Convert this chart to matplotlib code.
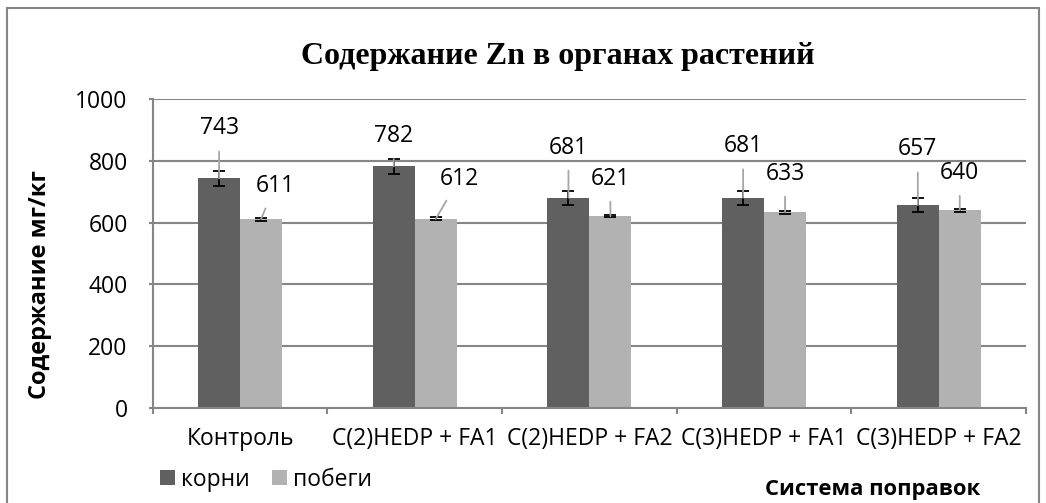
import numpy as np
import matplotlib
matplotlib.use('Agg')
import matplotlib.pyplot as plt
from matplotlib.patches import Rectangle

# data
categories = ['Контроль', 'C(2)HEDP + FA1', 'C(2)HEDP + FA2', 'C(3)HEDP + FA1', 'C(3)HEDP + FA2']
roots = [743, 782, 681, 681, 657]
roots_err = [24, 23, 23, 23, 24]
shoots = [611, 612, 621, 633, 640]
shoots_err = [5, 5, 4, 4, 5]

# label offsets in points (dx, dy) -- layout only
roots_off = [(0, 36), (0, 22), (0, 36), (0, 37), (0, 40)]
shoots_off = [(10, 24), (17, 29), (0, 27), (0, 28), (0, 27)]

plt.rcParams['font.family'] = ['Open Sans', 'DejaVu Sans']
fs = 16.5

fig = plt.figure(figsize=(10.46, 5.03), dpi=100)
ax = fig.add_axes([0.146, 0.189, 0.835, 0.614])

dark = '#606060'
light = '#b2b2b2'
grid_c = '#868686'
x = np.arange(len(categories))
w = 0.24

ax.bar(x - w / 2, roots, w, color=dark, label='корни', zorder=2)
ax.bar(x + w / 2, shoots, w, color=light, label='побеги', zorder=2)
ax.errorbar(x - w / 2, roots, yerr=roots_err, fmt='none', ecolor='black',
            elinewidth=1.3, capsize=4.3, capthick=1.3, zorder=4)
ax.errorbar(x + w / 2, shoots, yerr=shoots_err, fmt='none', ecolor='black',
            elinewidth=1.3, capsize=4.3, capthick=1.3, zorder=4)

lead = dict(arrowstyle='-', color='#a6a6a6', lw=1.3, shrinkA=6, shrinkB=0)
for xi, v, off in zip(x - w / 2, roots, roots_off):
    ax.annotate(str(v), xy=(xi, v), xytext=off, textcoords='offset points',
                ha='center', va='center', fontsize=fs, arrowprops=lead, zorder=5)
for xi, v, off in zip(x + w / 2, shoots, shoots_off):
    ax.annotate(str(v), xy=(xi, v), xytext=off, textcoords='offset points',
                ha='center', va='center', fontsize=fs, arrowprops=lead, zorder=5)

ax.set_xlim(-0.5, len(categories) - 0.5)
ax.set_ylim(0, 1000)
ax.set_yticks(range(0, 1001, 200))
ax.set_xticks(x)
ax.set_xticklabels(categories)
ax.set_xticks(np.arange(-0.5, len(categories)), minor=True)
ax.tick_params(axis='x', which='major', length=0, labelsize=fs, pad=14)
ax.tick_params(axis='x', which='minor', length=4, color=grid_c, width=1.5)
ax.tick_params(axis='y', length=3, color=grid_c, width=1.5, labelsize=fs, pad=15)
ax.grid(axis='y', color=grid_c, lw=1.5, zorder=0)
for s in ['top', 'right']:
    ax.spines[s].set_visible(False)
for s in ['left', 'bottom']:
    ax.spines[s].set_color(grid_c)
    ax.spines[s].set_linewidth(1.5)

ax.set_ylabel('Содержание мг/кг', fontsize=17, fontweight='bold')
ax.yaxis.set_label_coords(-0.115, 0.40)
fig.text(0.533, 0.887, 'Содержание Zn в органах растений', ha='center', va='center',
         fontsize=23, fontweight='bold', family='Liberation Serif')
fig.text(0.834, 0.026, 'Система поправок', ha='center', va='center',
         fontsize=15.8, fontweight='bold')
fig.legend(loc='center left', bbox_to_anchor=(0.153, 0.046), ncol=2, frameon=False,
           fontsize=fs, handlelength=0.65, handleheight=0.65, handletextpad=0.25,
           columnspacing=1.0, borderpad=0, borderaxespad=0)

fig.patches.append(Rectangle((0.0067, -0.02), 0.987, 1.004, transform=fig.transFigure,
                             fill=False, edgecolor=grid_c, lw=1.5))

fig.savefig('out.png', dpi=100)
